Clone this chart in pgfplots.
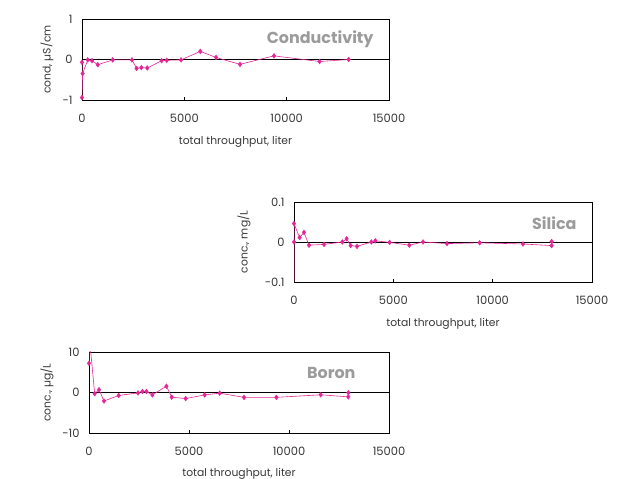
\documentclass[border=0pt]{standalone}
\usepackage{fontspec}
\setmainfont{Poppins}
\usepackage{pgfplots}
\usepackage{pgfplotstable}
\pgfplotsset{compat=1.18}

\definecolor{pinkline}{RGB}{228,38,150}
\definecolor{ttl}{RGB}{155,155,155}
\definecolor{lbl}{RGB}{55,55,55}

% conductivity, uS/cm
\pgfplotstableread{
x y
0 -0.07
0 -0.94
30 -0.35
280 -0.01
490 -0.03
770 -0.13
1500 -0.01
2440 -0.01
2670 -0.22
2900 -0.20
3190 -0.21
3890 -0.03
4140 -0.02
4840 -0.01
5780 0.20
6550 0.05
7720 -0.12
9380 0.09
11610 -0.05
13030 0.00
}\cond

% silica, mg/L
\pgfplotstableread{
x y
0 -0.3
0 0.000
0 0.046
285 0.011
503 0.024
755 -0.008
1510 -0.006
2433 0.000
2650 0.008
2852 -0.009
3171 -0.011
3893 0.000
4094 0.003
4815 -0.001
5805 -0.008
6493 0.000
7701 -0.004
9346 -0.002
11527 -0.005
12970 -0.009
12970 0.001
}\silica

% boron, ug/L
\pgfplotstableread{
x y
0 7.2
10 14
285 -0.3
500 0.7
750 -2.1
1485 -0.74
2450 -0.1
2670 0.25
2870 0.25
3170 -0.6
3870 1.55
4135 -1.15
4835 -1.5
5783 -0.6
6533 -0.16
7750 -1.2
9366 -1.2
11583 -0.57
12967 -1.07
12967 -0.05
}\boron

\tikzset{paneltitle/.style={anchor=east, font=\fontsize{16}{18}\selectfont\bfseries, text=ttl}}

\pgfplotsset{
  panel/.style={
    scale only axis, anchor=south west,
    xmin=0, xmax=15000,
    scaled x ticks=false,
    xtick={0,5000,10000,15000},
    xticklabels={0,5000,10000,15000},
    xtick pos=bottom, ytick pos=left,
    tick align=inside, major tick length=3bp,
    ytick style={draw=none},
    xtick style={black, line width=0.5bp},
    axis line style={black, line width=0.6bp},
    tick label style={font=\fontsize{11.5}{13}\selectfont, text=lbl},
    xticklabel style={yshift=-10.5bp},
    yticklabel style={xshift=-6bp},
    label style={font=\fontsize{10.8}{12}\selectfont, text=lbl},
    xlabel={total throughput, liter},
    clip=true,
  },
  dataline/.style={pinkline, line width=0.6bp, no marks},
  datamarks/.style={only marks, mark=diamond*, mark size=2.4bp,
    mark options={fill=pinkline, draw=pinkline}},
  zeroline/.style={black, line width=0.6bp, no marks, forget plot},
}

\begin{document}
\begin{tikzpicture}
\useasboundingbox (0,0) rectangle (620bp,479bp);

% Conductivity
\begin{axis}[panel, at={(82bp,379bp)}, width=307bp, height=81bp,
  ymin=-1, ymax=1, ytick={-1,0,1}, yticklabels={-1,0,1},
  ylabel={cond, µS/cm},
  ylabel style={at={(axis description cs:-0.114,0.5)}, anchor=center},
  xlabel style={at={(axis description cs:0.5,-0.52)}, anchor=center}]
\addplot[zeroline] coordinates {(0,0) (15000,0)};
\addplot[dataline] table[x=x, y=y] {\cond};
\addplot[datamarks] table[x=x, y=y] {\cond};
\node[paneltitle] at (rel axis cs:0.961,0.753) {Conductivity};
\end{axis}

% Silica
\begin{axis}[panel, at={(294bp,197bp)}, width=298bp, height=80bp,
  ymin=-0.1, ymax=0.1, ytick={-0.1,0,0.1}, yticklabels={-0.1,0,0.1},
  ylabel={conc., mg/L},
  ylabel style={at={(axis description cs:-0.168,0.5)}, anchor=center},
  xlabel style={at={(axis description cs:0.5,-0.525)}, anchor=center}]
\addplot[zeroline] coordinates {(0,0) (15000,0)};
\addplot[dataline] table[x=x, y=y] {\silica};
\addplot[datamarks, restrict y to domain=-0.1:0.1] table[x=x, y=y] {\silica};
\node[paneltitle] at (rel axis cs:0.96,0.74) {Silica};
\end{axis}

% Boron
\begin{axis}[panel, at={(89bp,46bp)}, width=300bp, height=81bp,
  ymin=-10, ymax=10, ytick={-10,0,10}, yticklabels={-10,0,10},
  ylabel={conc., µg/L},
  ylabel style={at={(axis description cs:-0.14,0.5)}, anchor=center},
  xlabel style={at={(axis description cs:0.5,-0.5)}, anchor=center}]
\addplot[zeroline] coordinates {(0,0) (15000,0)};
\addplot[dataline] table[x=x, y=y] {\boron};
\addplot[datamarks, restrict y to domain=-10:10] table[x=x, y=y] {\boron};
\node[paneltitle] at (rel axis cs:0.9,0.74) {Boron};
\end{axis}
\end{tikzpicture}
\end{document}
